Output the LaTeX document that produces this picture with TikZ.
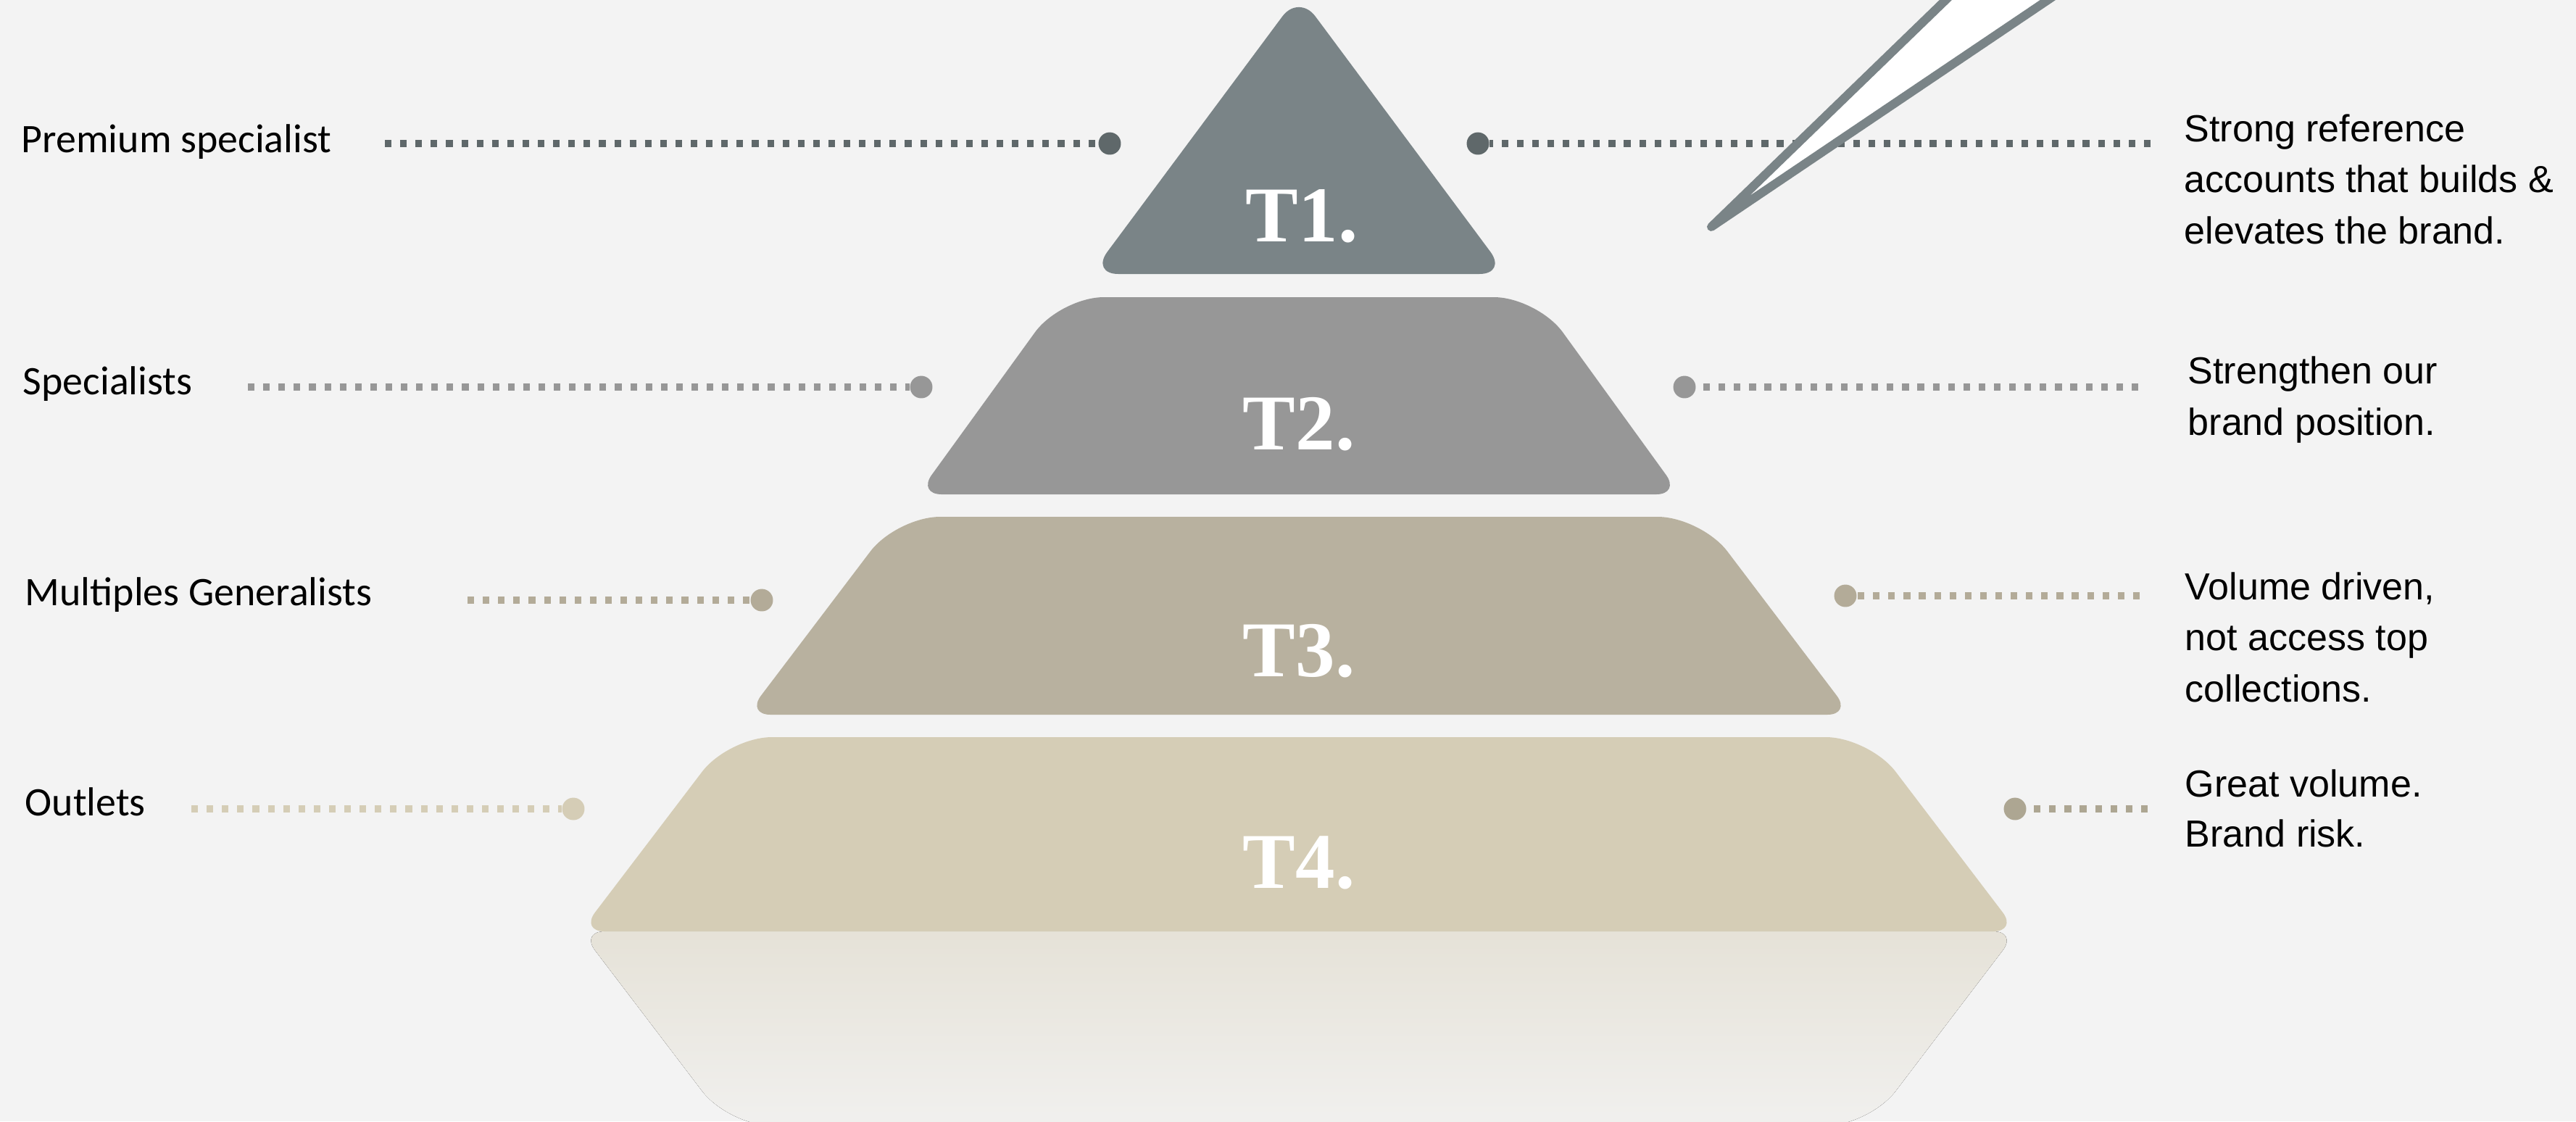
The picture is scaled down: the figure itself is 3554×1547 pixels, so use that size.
\documentclass[tikz,border=0pt]{standalone}
\usepackage{fontspec}
\setmainfont{Liberation Sans}
\newfontfamily\segfont{Carlito}
\newfontfamily\tierfont{Liberation Serif}

\definecolor{paper}{HTML}{F3F3F3}
\definecolor{tone1}{HTML}{7A8487}
\definecolor{tone1dk}{HTML}{5F686A}
\definecolor{tone2}{HTML}{979797}
\definecolor{tone3}{HTML}{B8B19F}
\definecolor{tone3dk}{HTML}{B3AB98}
\definecolor{tone4}{HTML}{D5CDB6}
\definecolor{tone4dk}{HTML}{ADA692}

\begin{document}
\begin{tikzpicture}[x=0.01cm,y=-0.01cm,
  tierlabel/.style={font=\tierfont\bfseries\fontsize{31pt}{31pt}\selectfont,text=white,anchor=base,inner sep=0},
  segment/.style={font=\segfont\fontsize{15.9pt}{19pt}\selectfont,anchor=base west,inner sep=0},
  remark/.style={font=\fontsize{14.8pt}{20pt}\selectfont,anchor=base west,align=left,inner sep=0},
  dotend/.style={circle,fill=#1,minimum size=8.8pt,inner sep=0},
  leader/.style={draw=#1,line width=2.85pt,dash pattern=on 2.6pt off 3.4pt},
  small/.style={rounded corners=0.33cm},
  big/.style={rounded corners=0.6cm}]

  % paper
  \fill[paper] (0,0) rectangle (3554,1547);
  \clip (0,0) rectangle (3554,1547);

  % mirror under the base
  \fill[top color=tone4!45!paper,bottom color=tone4!8!paper]
    (1792,1285) [small] -- (801,1285) -- (903,1419) [big] -- (1005,1553) -- (2579,1553) -- (2681,1419) [small] -- (2783,1285) -- cycle;

  % the four tiers, bottom up (sides split so each corner keeps one radius)
  \fill[tone4] (1792,1285) [small] -- (801,1285) -- (903,1151) [big] -- (1005,1017) -- (2579,1017) -- (2681,1151) [small] -- (2783,1285) -- cycle;
  \fill[tone3] (1792,986) [small] -- (1030,986) -- (1133.5,849.5) [big] -- (1237,713) -- (2347,713) -- (2450.5,849.5) [small] -- (2554,986) -- cycle;
  \fill[tone2] (1792,682) [small] -- (1266,682) -- (1364.5,546) [big] -- (1463,410) -- (2121,410) -- (2219.5,546) [small] -- (2318,682) -- cycle;
  \fill[tone1,rounded corners=0.38cm] (1505,378) -- (1792,-8) -- (2079,378) -- cycle;

  \path
  (1796,333) node[tierlabel] (t1) {T1.}
  (1792,620) node[tierlabel] (t2) {T2.}
  (1792,933) node[tierlabel] (t3) {T3.}
  (1792,1225) node[tierlabel] (t4) {T4.}

  % segments on the left
  (29,210) node[segment] (seg1) {Premium specialist}
  (31,544) node[segment] (seg2) {Specialists}
  (34,835) node[segment] (seg3) {Multiples Generalists}
  (34,1125) node[segment] (seg4) {Outlets}

  % remarks on the right (base = last line)
  (3013,336) node[remark] (rem1) {Strong reference\\accounts that builds \&\\elevates the brand.}
  (3018,600) node[remark] (rem2) {Strengthen our\\brand position.}
  (3014,968) node[remark] (rem3) {Volume driven,\\not access top\\collections.}
  (3014,1168) node[remark,font=\fontsize{14.8pt}{19.5pt}\selectfont] (rem4) {Great volume.\\Brand risk.}

  % end dots
  (1531,198) node[dotend=tone1dk] (d1l) {}
  (2039,198) node[dotend=tone1dk] (d1r) {}
  (1271,534) node[dotend=tone2] (d2l) {}
  (2324,534) node[dotend=tone2] (d2r) {}
  (1051,828) node[dotend=tone3dk] (d3l) {}
  (2546,822) node[dotend=tone3dk] (d3r) {}
  (791,1116) node[dotend=tone4] (d4l) {}
  (2780,1116) node[dotend=tone4dk] (d4r) {}
  ;

  \coordinate (s1l) at (531,198);
  \coordinate (s1r) at (2967,198);
  \coordinate (s2l) at (342,534);
  \coordinate (s2r) at (2950,534);
  \coordinate (s3l) at (645,828);
  \coordinate (s3r) at (2952,822);
  \coordinate (s4l) at (264,1116);
  \coordinate (s4r) at (2963,1116);

  \draw[leader=tone1dk] (s1l) -- (d1l);
  \draw[leader=tone1dk] (s1r) -- (d1r);
  \draw[leader=tone2] (s2l) -- (d2l);
  \draw[leader=tone2] (s2r) -- (d2r);
  \draw[leader=tone3dk] (s3l) -- (d3l);
  \draw[leader=tone3dk] (s3r) -- (d3r);
  \draw[leader=tone4] (s4l) -- (d4l);
  \draw[leader=tone4dk] (s4r) -- (d4r);

  % pointer coming in from the top
  \coordinate (tip) at (2361,313);
  \filldraw[fill=white,draw=tone1,line width=3.4pt,line join=round]
    (2705,-20) -- (tip) -- (2855,-20);
\end{tikzpicture}
\end{document}
